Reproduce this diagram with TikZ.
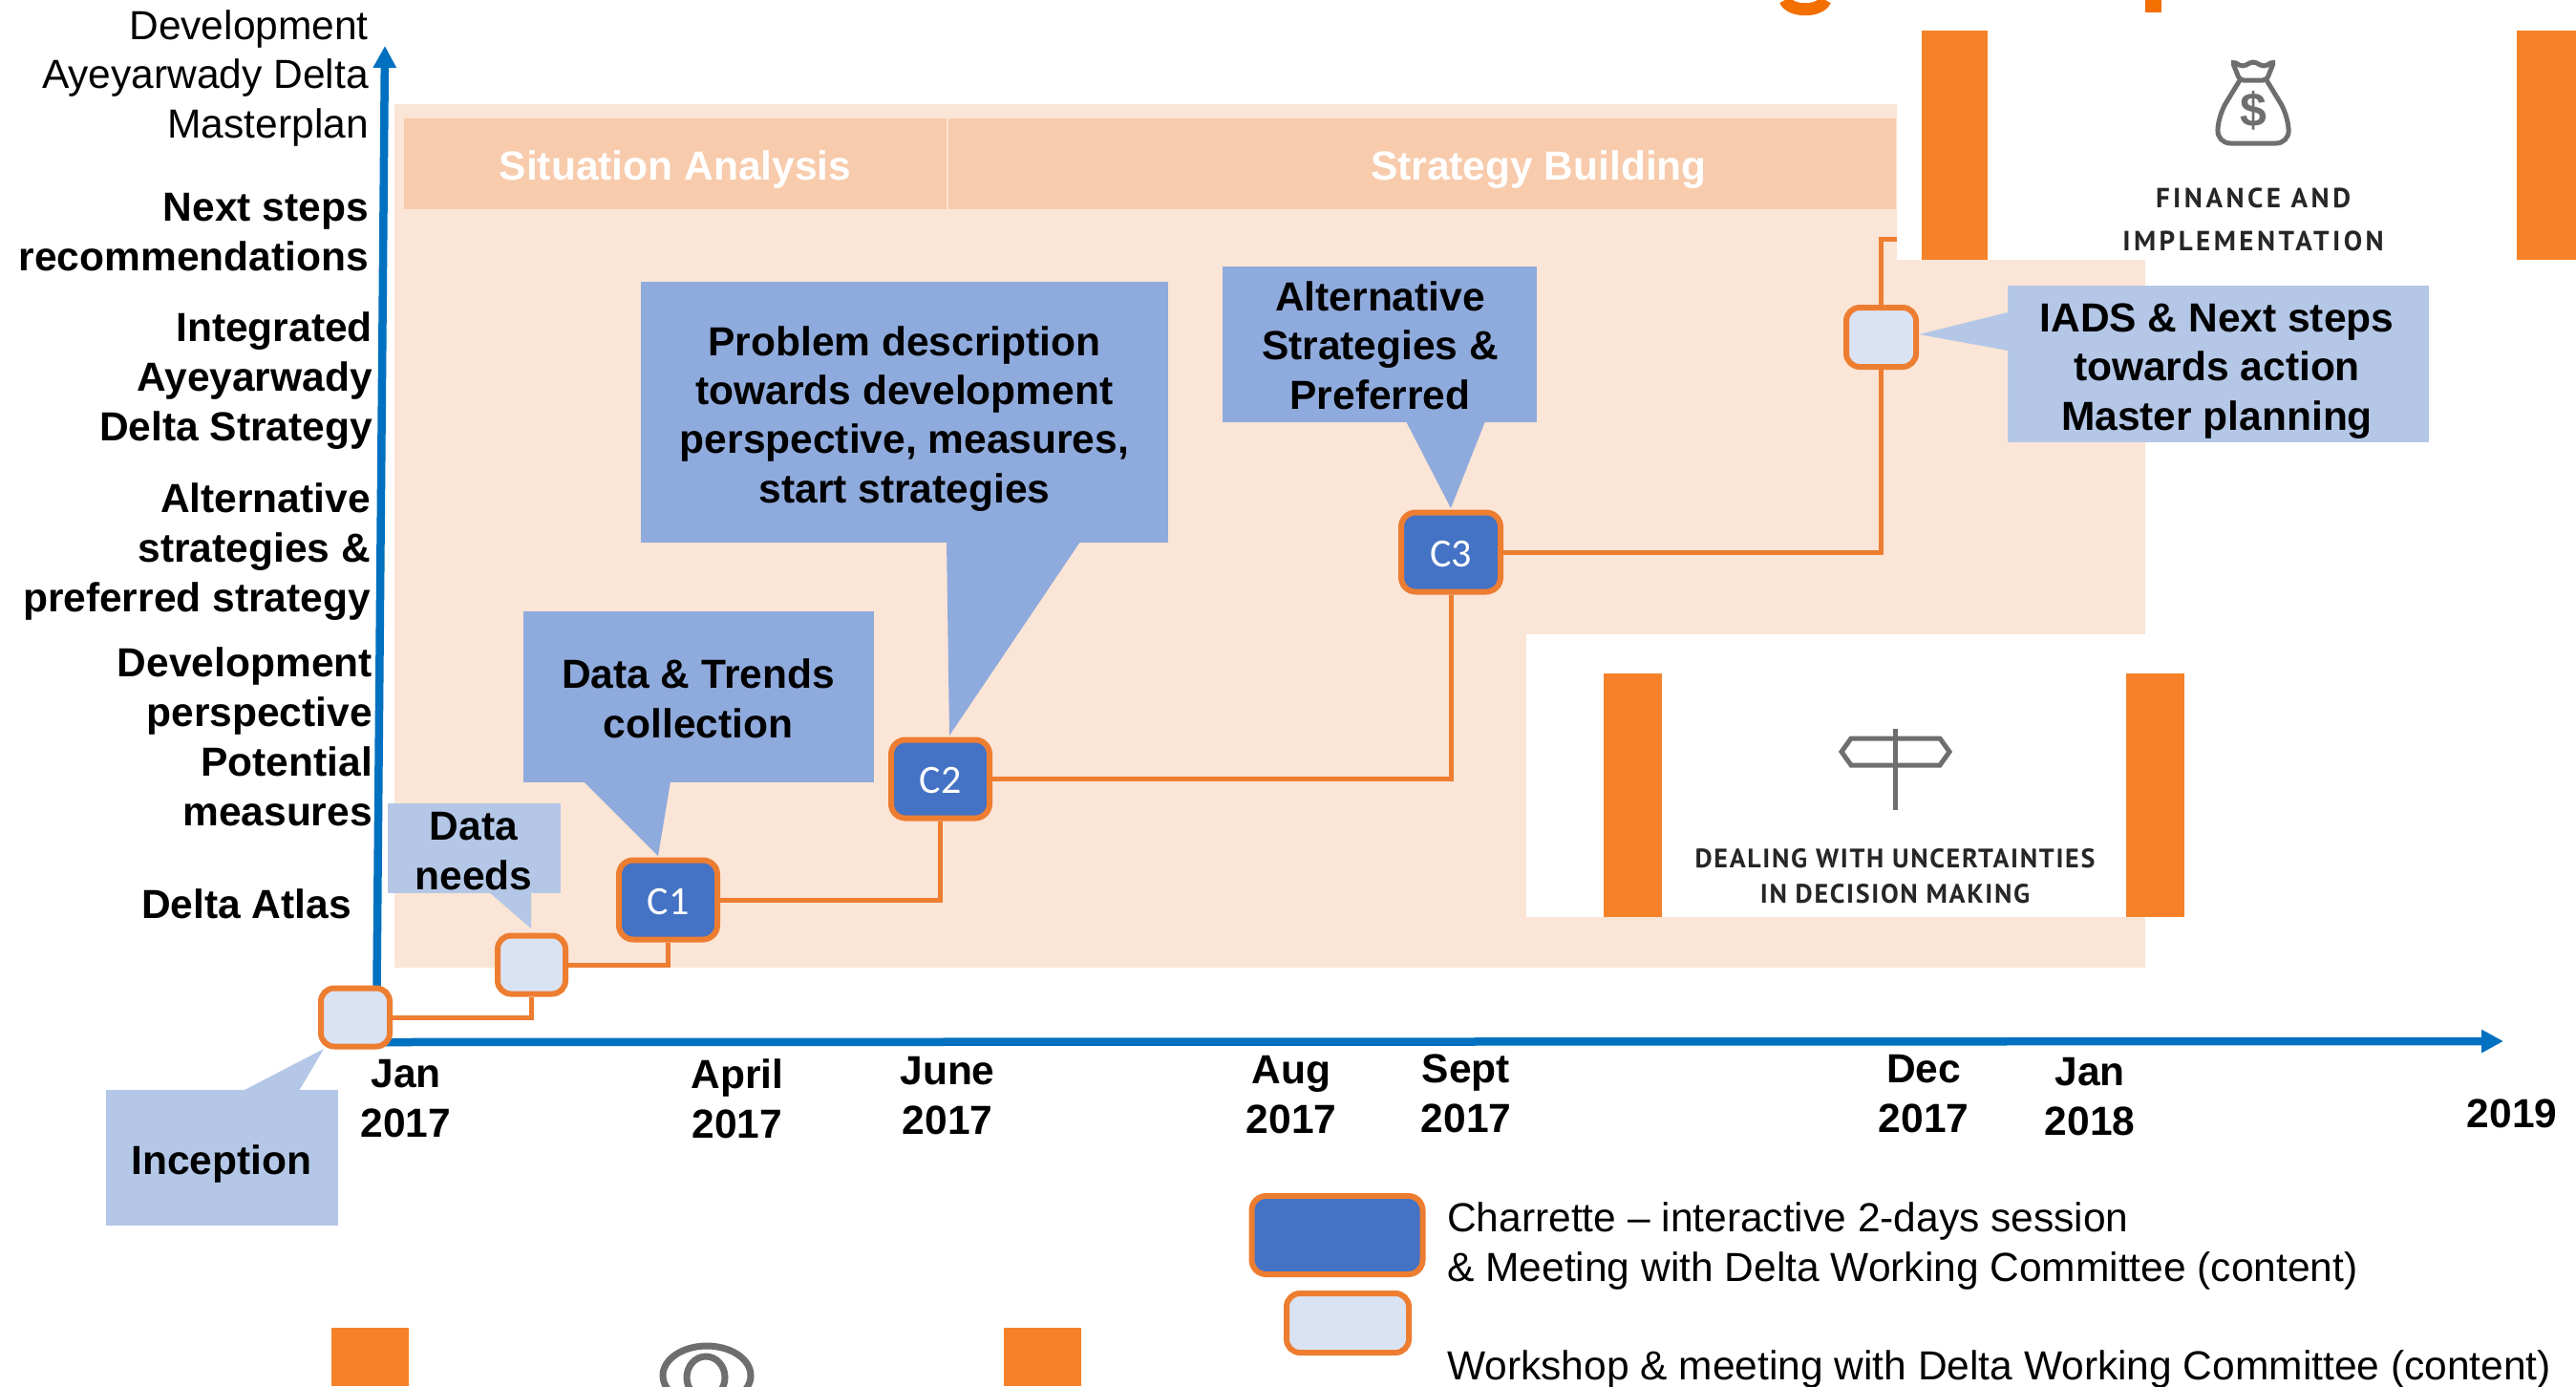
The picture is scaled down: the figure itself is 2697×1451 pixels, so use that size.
\documentclass[tikz,border=0pt]{standalone}
\usepackage{fontspec}
\usetikzlibrary{arrows.meta}
\setmainfont{Liberation Sans}
\newfontfamily\calfont{Carlito}
\newfontfamily\capsfont[LetterSpace=6]{PT Sans}
\newfontfamily\capswide[LetterSpace=12]{PT Sans}
\definecolor{panelc}{HTML}{FBE5D6}
\definecolor{bandc}{HTML}{F7CBAC}
\definecolor{darkcall}{HTML}{8FAADC}
\definecolor{lightcall}{HTML}{B4C7E7}
\definecolor{lightnode}{HTML}{DAE3F3}
\definecolor{darknode}{HTML}{4472C4}
\definecolor{linec}{HTML}{ED7D31}
\definecolor{axisc}{HTML}{0070C0}
\definecolor{barc}{HTML}{F58229}
\definecolor{titlec}{HTML}{F26F00}
\definecolor{iconc}{HTML}{6E6E6E}
\newcommand{\clab}[1]{\raisebox{-15pt}[0pt][0pt]{#1}}
\tikzset{
 x=1pt,y=-1pt,
 lab/.style={inner sep=0pt,align=right,anchor=base east,font=\fontsize{42.5}{51.8}\selectfont\bfseries},
 labreg/.style={lab,font=\fontsize{42.5}{51.3}\selectfont},
 dates/.style={inner sep=0pt,align=center,anchor=base,font=\fontsize{42.5}{51.3}\selectfont\bfseries},
 legendtxt/.style={inner sep=0pt,align=left,anchor=base west,font=\fontsize{42.5}{51.8}\selectfont},
 bandlab/.style={inner sep=0pt,anchor=base,text=white,font=\fontsize{42.5}{51.3}\selectfont\bfseries},
 callbox/.style={inner sep=0pt},
 calltext/.style={inner sep=0pt,align=center,anchor=base,font=\fontsize{42.5}{51.3}\selectfont\bfseries},
 calldark/.style={callbox,fill=darkcall},
 calllight/.style={callbox,fill=lightcall},
 charrette/.style={draw=linec,line width=6pt,rounded corners=15pt,fill=darknode,inner sep=0pt,text=white,font=\fontsize{42}{50}\selectfont\calfont},
 workshop/.style={draw=linec,line width=6pt,rounded corners=14pt,fill=lightnode,inner sep=0pt},
 conn/.style={draw=linec,line width=5pt},
 axisline/.style={draw=axisc,line width=8.5pt,-{Triangle[width=23pt,length=23pt]}},
 bar/.style={fill=barc},
 icon/.style={draw=iconc,line width=5pt},
 caps/.style={inner sep=0pt,anchor=base,text=black!85,font=\fontsize{28}{36}\selectfont\capsfont\bfseries},
 capsw/.style={inner sep=0pt,anchor=base,text=black!85,font=\fontsize{29}{36}\selectfont\capswide\bfseries},
}
\begin{document}
\begin{tikzpicture}
\useasboundingbox (0,0) rectangle (2697,1451);
\fill[white] (0,0) rectangle (2697,1451);
% title fragments
\fill[titlec] (2246,0) rectangle (2263,13);
\draw[titlec,line width=13pt] (1869,0) .. controls (1874,13) and (1906,13) .. (1911,0);
% panel and band
\fill[panelc] (413,109) rectangle (2246,1013);
\fill[bandc] (423,124) rectangle (991,219);
\fill[bandc] (993,124) rectangle (1985,219);
\node[bandlab] (sa) at (707,188) {Situation Analysis};
\node[bandlab] (sb) at (1611,188) {Strategy Building};
% image: finance
\fill[white] (1986,13) rectangle (2697,272);
\fill[bar] (2012,32) rectangle (2081,272);
\fill[bar] (2635,32) rectangle (2697,272);
\draw[icon,rounded corners=4pt] (2345,84) -- (2337,64) -- (2348,70) -- (2359,64) -- (2370,70) -- (2381,64) -- (2373,84) -- cycle;
\draw[icon,rounded corners=14pt] (2345,84) -- (2323,120) -- (2321,150) -- (2397,150) -- (2395,120) -- (2373,84);
\node[inner sep=0pt,text=iconc,font=\fontsize{50}{50}\selectfont\bfseries] (dollar) at (2359,116) {\$};
\node[capsw] (f1) at (2359,217) {FINANCE AND};
\node[capsw] (f2) at (2359,262) {IMPLEMENTATION};
% image: uncertainties
\fill[white] (1598,664) rectangle (2306,960);
\fill[bar] (1679,705) rectangle (1740,960);
\fill[bar] (2226,705) rectangle (2287,960);
\draw[icon] (1984,763) -- (1984,848);
\draw[icon] (1938,773) -- (2031,773) -- (2041,787) -- (2031,801) -- (1938,801) -- (1928,787) -- cycle;
\node[caps] (u1) at (1984,908) {DEALING WITH UNCERTAINTIES};
\node[caps] (u2) at (1984,945) {IN DECISION MAKING};
% image: bottom
\fill[bar] (347,1390) rectangle (428,1451);
\fill[bar] (1051,1390) rectangle (1132,1451);
\begin{scope}
\clip (650,1395) rectangle (830,1451);
\draw[icon,line width=7pt] (740,1440) ellipse (46pt and 31pt);
\draw[icon,line width=7pt] (739,1442) ellipse (20pt and 22pt);
\end{scope}
% axes
\coordinate (origin) at (394,1091);
\coordinate (ytip) at (403,48);
\coordinate (xtip) at (2621,1090);
\draw[axisline] (origin) -- (ytip);
\draw[axisline] (origin) -- (xtip);
% step nodes
\node[workshop,minimum width=72pt,minimum height=61pt] (w0) at (372,1065) {};
\node[workshop,minimum width=71pt,minimum height=61pt] (w1) at (556.5,1010) {};
\node[charrette,minimum width=103pt,minimum height=83pt] (c1) at (699.5,942) {\clab{C1}};
\node[charrette,minimum width=103pt,minimum height=82pt] (c2) at (984.5,815.5) {\clab{C2}};
\node[charrette,minimum width=104pt,minimum height=83pt] (c3) at (1519,578) {\clab{C3}};
\node[workshop,minimum width=73pt,minimum height=62pt] (w2) at (1969.5,353) {};
\coordinate (finance) at (1986,250);
% connectors
\draw[conn] (w0.east) -| (w1.south);
\draw[conn] (w1.east) -| (c1.south);
\draw[conn] (c1.east) -| (c2.south);
\draw[conn] (c2.east) -| (c3.south);
\draw[conn] (c3.east) -| (w2.south);
\draw[conn] (w2.north) |- (finance);
% callouts
\node[calllight,minimum width=243pt,minimum height=142pt] (cin) at (232.5,1212) {};
\fill[lightcall] (254,1142) -- (339,1098) -- (313,1142) -- cycle;
\node[calltext] (cint) at (232,1229) {Inception};
\node[calllight,minimum width=181pt,minimum height=94pt] (cdn) at (496.5,888) {};
\fill[lightcall] (512,934) -- (556,972) -- (556,934) -- cycle;
\node[calltext] (cdnt) at (496,931) {Data\\needs};
\node[calldark,minimum width=367pt,minimum height=179pt] (cdt) at (731.5,729.5) {};
\fill[darkcall] (611,818) -- (689,896) -- (702,818) -- cycle;
\node[calltext] (cdtt) at (731,772) {Data \& Trends\\collection};
\node[calldark,minimum width=552pt,minimum height=273pt] (cpd) at (947,431.5) {};
\fill[darkcall] (991,567) -- (994,770) -- (1131,567) -- cycle;
\node[calltext] (cpdt) at (947,526) {Problem description\\towards development\\perspective, measures,\\start strategies};
\node[calldark,minimum width=329pt,minimum height=163pt] (cas) at (1444.5,360.5) {};
\fill[darkcall] (1472,441) -- (1519,532) -- (1555,441) -- cycle;
\node[calltext] (cast) at (1445,428) {Alternative\\Strategies \&\\Preferred};
\node[calllight,minimum width=441pt,minimum height=164pt] (cia) at (2322,381) {};
\fill[lightcall] (2102,327) -- (2009,350) -- (2102,367) -- cycle;
\node[calltext] (ciat) at (2321,450) {IADS \& Next steps\\towards action\\Master planning};
% left labels
\node[labreg] (l1) at (386,144) {Development\\Ayeyarwady Delta\\Masterplan};
\node[lab] (l2) at (386,283) {Next steps\\recommendations};
\node[lab] (l3) at (390,461) {Integrated\\Ayeyarwady\\Delta Strategy};
\node[lab] (l4) at (388,640) {Alternative\\strategies \&\\preferred strategy};
\node[lab] (l5) at (390,864) {Development\\perspective\\Potential\\measures};
\node[lab] (l6) at (368,961) {Delta Atlas};
% dates
\node[dates] (d1) at (425,1190) {Jan\\2017};
\node[dates] (d2) at (772,1191) {April\\2017};
\node[dates] (d3) at (992,1187) {June\\2017};
\node[dates] (d4) at (1352,1186) {Aug\\2017};
\node[dates] (d5) at (1535,1185) {Sept\\2017};
\node[dates] (d6) at (2014,1185) {Dec\\2017};
\node[dates] (d7) at (2188,1188) {Jan\\2018};
\node[dates] (d8) at (2630,1180) {2019};
% legend
\node[charrette,minimum width=179pt,minimum height=82pt] (k1) at (1400,1293) {};
\node[workshop,minimum width=128pt,minimum height=62pt] (k2) at (1411,1385) {};
\node[legendtxt] (t1) at (1515,1341) {Charrette – interactive 2-days session\\\& Meeting with Delta Working Committee (content)};
\node[legendtxt] (t2) at (1515,1444) {Workshop \& meeting with Delta Working Committee (content)};
\end{tikzpicture}
\end{document}
